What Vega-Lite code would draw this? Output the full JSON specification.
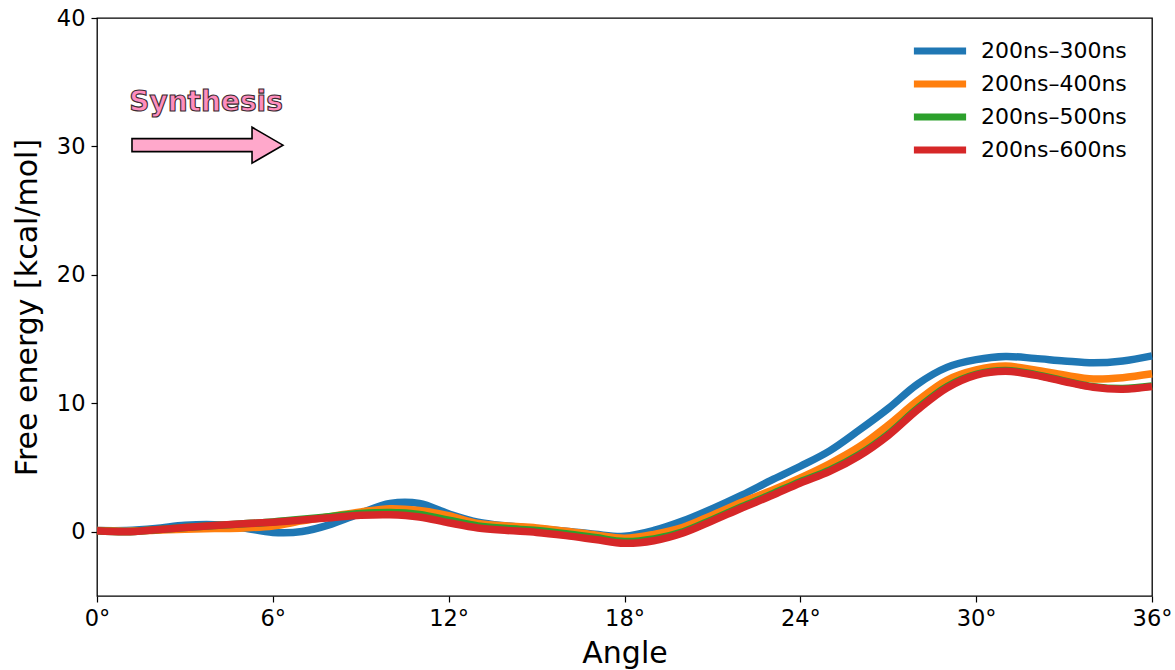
{
  "$schema": "https://vega.github.io/schema/vega-lite/v6.json",
  "autosize": "none",
  "width": 1055,
  "height": 578,
  "padding": {"left": 97, "top": 18, "right": 23, "bottom": 74},
  "background": "white",
  "config": {
    "font": "DejaVu Sans",
    "view": {"stroke": "black", "strokeWidth": 1.3},
    "axis": {
      "grid": false,
      "domain": false,
      "tickColor": "black",
      "tickWidth": 1.2,
      "tickSize": 6,
      "labelColor": "black",
      "labelFontSize": 22.5,
      "labelFont": "DejaVu Sans",
      "titleColor": "black",
      "titleFontSize": 30,
      "titleFont": "DejaVu Sans",
      "titleFontWeight": "normal"
    }
  },
  "datasets": {
    "curves": [
      {"angle": 0, "energy": 0.1, "run": "200ns–300ns"},
      {"angle": 1, "energy": 0.1, "run": "200ns–300ns"},
      {"angle": 2, "energy": 0.25, "run": "200ns–300ns"},
      {"angle": 3, "energy": 0.5, "run": "200ns–300ns"},
      {"angle": 4, "energy": 0.55, "run": "200ns–300ns"},
      {"angle": 5, "energy": 0.3, "run": "200ns–300ns"},
      {"angle": 6, "energy": -0.05, "run": "200ns–300ns"},
      {"angle": 7, "energy": 0.02, "run": "200ns–300ns"},
      {"angle": 8, "energy": 0.6, "run": "200ns–300ns"},
      {"angle": 9, "energy": 1.45, "run": "200ns–300ns"},
      {"angle": 10, "energy": 2.2, "run": "200ns–300ns"},
      {"angle": 11, "energy": 2.2, "run": "200ns–300ns"},
      {"angle": 12, "energy": 1.4, "run": "200ns–300ns"},
      {"angle": 13, "energy": 0.75, "run": "200ns–300ns"},
      {"angle": 14, "energy": 0.45, "run": "200ns–300ns"},
      {"angle": 15, "energy": 0.25, "run": "200ns–300ns"},
      {"angle": 16, "energy": 0.05, "run": "200ns–300ns"},
      {"angle": 17, "energy": -0.2, "run": "200ns–300ns"},
      {"angle": 18, "energy": -0.35, "run": "200ns–300ns"},
      {"angle": 19, "energy": 0.1, "run": "200ns–300ns"},
      {"angle": 20, "energy": 0.85, "run": "200ns–300ns"},
      {"angle": 21, "energy": 1.8, "run": "200ns–300ns"},
      {"angle": 22, "energy": 2.85, "run": "200ns–300ns"},
      {"angle": 23, "energy": 4.0, "run": "200ns–300ns"},
      {"angle": 24, "energy": 5.1, "run": "200ns–300ns"},
      {"angle": 25, "energy": 6.3, "run": "200ns–300ns"},
      {"angle": 26, "energy": 7.9, "run": "200ns–300ns"},
      {"angle": 27, "energy": 9.6, "run": "200ns–300ns"},
      {"angle": 28, "energy": 11.5, "run": "200ns–300ns"},
      {"angle": 29, "energy": 12.8, "run": "200ns–300ns"},
      {"angle": 30, "energy": 13.4, "run": "200ns–300ns"},
      {"angle": 31, "energy": 13.65, "run": "200ns–300ns"},
      {"angle": 32, "energy": 13.5, "run": "200ns–300ns"},
      {"angle": 33, "energy": 13.3, "run": "200ns–300ns"},
      {"angle": 34, "energy": 13.15, "run": "200ns–300ns"},
      {"angle": 35, "energy": 13.3, "run": "200ns–300ns"},
      {"angle": 36, "energy": 13.7, "run": "200ns–300ns"},

      {"angle": 0, "energy": 0.1, "run": "200ns–400ns"},
      {"angle": 1, "energy": 0.05, "run": "200ns–400ns"},
      {"angle": 2, "energy": 0.12, "run": "200ns–400ns"},
      {"angle": 3, "energy": 0.2, "run": "200ns–400ns"},
      {"angle": 4, "energy": 0.25, "run": "200ns–400ns"},
      {"angle": 5, "energy": 0.3, "run": "200ns–400ns"},
      {"angle": 6, "energy": 0.45, "run": "200ns–400ns"},
      {"angle": 7, "energy": 0.85, "run": "200ns–400ns"},
      {"angle": 8, "energy": 1.2, "run": "200ns–400ns"},
      {"angle": 9, "energy": 1.55, "run": "200ns–400ns"},
      {"angle": 10, "energy": 1.8, "run": "200ns–400ns"},
      {"angle": 11, "energy": 1.65, "run": "200ns–400ns"},
      {"angle": 12, "energy": 1.25, "run": "200ns–400ns"},
      {"angle": 13, "energy": 0.65, "run": "200ns–400ns"},
      {"angle": 14, "energy": 0.45, "run": "200ns–400ns"},
      {"angle": 15, "energy": 0.3, "run": "200ns–400ns"},
      {"angle": 16, "energy": 0.05, "run": "200ns–400ns"},
      {"angle": 17, "energy": -0.25, "run": "200ns–400ns"},
      {"angle": 18, "energy": -0.5, "run": "200ns–400ns"},
      {"angle": 19, "energy": -0.2, "run": "200ns–400ns"},
      {"angle": 20, "energy": 0.35, "run": "200ns–400ns"},
      {"angle": 21, "energy": 1.3, "run": "200ns–400ns"},
      {"angle": 22, "energy": 2.3, "run": "200ns–400ns"},
      {"angle": 23, "energy": 3.2, "run": "200ns–400ns"},
      {"angle": 24, "energy": 4.2, "run": "200ns–400ns"},
      {"angle": 25, "energy": 5.3, "run": "200ns–400ns"},
      {"angle": 26, "energy": 6.6, "run": "200ns–400ns"},
      {"angle": 27, "energy": 8.3, "run": "200ns–400ns"},
      {"angle": 28, "energy": 10.2, "run": "200ns–400ns"},
      {"angle": 29, "energy": 11.8, "run": "200ns–400ns"},
      {"angle": 30, "energy": 12.6, "run": "200ns–400ns"},
      {"angle": 31, "energy": 12.9, "run": "200ns–400ns"},
      {"angle": 32, "energy": 12.6, "run": "200ns–400ns"},
      {"angle": 33, "energy": 12.2, "run": "200ns–400ns"},
      {"angle": 34, "energy": 11.9, "run": "200ns–400ns"},
      {"angle": 35, "energy": 12.0, "run": "200ns–400ns"},
      {"angle": 36, "energy": 12.3, "run": "200ns–400ns"},

      {"angle": 0, "energy": 0.08, "run": "200ns–500ns"},
      {"angle": 1, "energy": 0.0, "run": "200ns–500ns"},
      {"angle": 2, "energy": 0.16, "run": "200ns–500ns"},
      {"angle": 3, "energy": 0.33, "run": "200ns–500ns"},
      {"angle": 4, "energy": 0.48, "run": "200ns–500ns"},
      {"angle": 5, "energy": 0.62, "run": "200ns–500ns"},
      {"angle": 6, "energy": 0.77, "run": "200ns–500ns"},
      {"angle": 7, "energy": 0.97, "run": "200ns–500ns"},
      {"angle": 8, "energy": 1.2, "run": "200ns–500ns"},
      {"angle": 9, "energy": 1.42, "run": "200ns–500ns"},
      {"angle": 10, "energy": 1.5, "run": "200ns–500ns"},
      {"angle": 11, "energy": 1.35, "run": "200ns–500ns"},
      {"angle": 12, "energy": 0.9, "run": "200ns–500ns"},
      {"angle": 13, "energy": 0.45, "run": "200ns–500ns"},
      {"angle": 14, "energy": 0.25, "run": "200ns–500ns"},
      {"angle": 15, "energy": 0.1, "run": "200ns–500ns"},
      {"angle": 16, "energy": -0.15, "run": "200ns–500ns"},
      {"angle": 17, "energy": -0.45, "run": "200ns–500ns"},
      {"angle": 18, "energy": -0.75, "run": "200ns–500ns"},
      {"angle": 19, "energy": -0.55, "run": "200ns–500ns"},
      {"angle": 20, "energy": 0.0, "run": "200ns–500ns"},
      {"angle": 21, "energy": 0.95, "run": "200ns–500ns"},
      {"angle": 22, "energy": 1.95, "run": "200ns–500ns"},
      {"angle": 23, "energy": 2.9, "run": "200ns–500ns"},
      {"angle": 24, "energy": 3.9, "run": "200ns–500ns"},
      {"angle": 25, "energy": 4.8, "run": "200ns–500ns"},
      {"angle": 26, "energy": 6.0, "run": "200ns–500ns"},
      {"angle": 27, "energy": 7.6, "run": "200ns–500ns"},
      {"angle": 28, "energy": 9.6, "run": "200ns–500ns"},
      {"angle": 29, "energy": 11.3, "run": "200ns–500ns"},
      {"angle": 30, "energy": 12.25, "run": "200ns–500ns"},
      {"angle": 31, "energy": 12.55, "run": "200ns–500ns"},
      {"angle": 32, "energy": 12.25, "run": "200ns–500ns"},
      {"angle": 33, "energy": 11.75, "run": "200ns–500ns"},
      {"angle": 34, "energy": 11.3, "run": "200ns–500ns"},
      {"angle": 35, "energy": 11.15, "run": "200ns–500ns"},
      {"angle": 36, "energy": 11.35, "run": "200ns–500ns"},

      {"angle": 0, "energy": 0.08, "run": "200ns–600ns"},
      {"angle": 1, "energy": 0.0, "run": "200ns–600ns"},
      {"angle": 2, "energy": 0.15, "run": "200ns–600ns"},
      {"angle": 3, "energy": 0.33, "run": "200ns–600ns"},
      {"angle": 4, "energy": 0.48, "run": "200ns–600ns"},
      {"angle": 5, "energy": 0.62, "run": "200ns–600ns"},
      {"angle": 6, "energy": 0.75, "run": "200ns–600ns"},
      {"angle": 7, "energy": 0.92, "run": "200ns–600ns"},
      {"angle": 8, "energy": 1.1, "run": "200ns–600ns"},
      {"angle": 9, "energy": 1.28, "run": "200ns–600ns"},
      {"angle": 10, "energy": 1.32, "run": "200ns–600ns"},
      {"angle": 11, "energy": 1.15, "run": "200ns–600ns"},
      {"angle": 12, "energy": 0.7, "run": "200ns–600ns"},
      {"angle": 13, "energy": 0.3, "run": "200ns–600ns"},
      {"angle": 14, "energy": 0.1, "run": "200ns–600ns"},
      {"angle": 15, "energy": -0.05, "run": "200ns–600ns"},
      {"angle": 16, "energy": -0.3, "run": "200ns–600ns"},
      {"angle": 17, "energy": -0.6, "run": "200ns–600ns"},
      {"angle": 18, "energy": -0.9, "run": "200ns–600ns"},
      {"angle": 19, "energy": -0.7, "run": "200ns–600ns"},
      {"angle": 20, "energy": -0.1, "run": "200ns–600ns"},
      {"angle": 21, "energy": 0.85, "run": "200ns–600ns"},
      {"angle": 22, "energy": 1.85, "run": "200ns–600ns"},
      {"angle": 23, "energy": 2.8, "run": "200ns–600ns"},
      {"angle": 24, "energy": 3.8, "run": "200ns–600ns"},
      {"angle": 25, "energy": 4.7, "run": "200ns–600ns"},
      {"angle": 26, "energy": 5.9, "run": "200ns–600ns"},
      {"angle": 27, "energy": 7.5, "run": "200ns–600ns"},
      {"angle": 28, "energy": 9.5, "run": "200ns–600ns"},
      {"angle": 29, "energy": 11.2, "run": "200ns–600ns"},
      {"angle": 30, "energy": 12.2, "run": "200ns–600ns"},
      {"angle": 31, "energy": 12.5, "run": "200ns–600ns"},
      {"angle": 32, "energy": 12.2, "run": "200ns–600ns"},
      {"angle": 33, "energy": 11.7, "run": "200ns–600ns"},
      {"angle": 34, "energy": 11.25, "run": "200ns–600ns"},
      {"angle": 35, "energy": 11.1, "run": "200ns–600ns"},
      {"angle": 36, "energy": 11.3, "run": "200ns–600ns"}
    ],
    "note": [
      {"angle": 3.72, "energy": 32.76, "label": "Synthesis"}
    ],
    "arrow": [
      {"angle": 3.77, "energy": 30.1}
    ]
  },
  "encoding": {
    "x": {
      "field": "angle",
      "type": "quantitative",
      "scale": {"domain": [0, 36], "nice": false, "zero": false},
      "axis": {
        "title": "Angle",
        "values": [0, 6, 12, 18, 24, 30, 36],
        "labelExpr": "datum.value + '°'",
        "labelPadding": 5,
        "titlePadding": 9,
        "labelFlush": false
      }
    },
    "y": {
      "field": "energy",
      "type": "quantitative",
      "scale": {"domain": [-5, 40], "nice": false, "zero": false},
      "axis": {
        "title": "Free energy [kcal/mol]",
        "values": [0, 10, 20, 30, 40],
        "labelPadding": 6,
        "titlePadding": 14,
        "labelFlush": false
      }
    }
  },
  "layer": [
    {
      "data": {"name": "curves"},
      "mark": {"type": "line", "strokeWidth": 7.5, "interpolate": "catmull-rom", "strokeCap": "butt"},
      "encoding": {
        "color": {
          "field": "run",
          "type": "nominal",
          "scale": {
            "domain": ["200ns–300ns", "200ns–400ns", "200ns–500ns", "200ns–600ns"],
            "range": ["#1f77b4", "#ff7f0e", "#2ca02c", "#d62728"]
          },
          "legend": {
            "title": null,
            "orient": "none",
            "legendX": 821,
            "legendY": 11,
            "padding": 4,
            "symbolType": "M-1.8,0L1.8,0",
            "symbolSize": 841,
            "symbolStrokeWidth": 7,
            "symbolFillColor": "transparent",
            "labelFontSize": 22,
            "labelFont": "DejaVu Sans",
            "labelColor": "black",
            "labelOffset": 23,
            "rowPadding": 1,
            "strokeColor": null,
            "fillColor": null
          }
        }
      }
    },
    {
      "data": {"name": "arrow"},
      "mark": {
        "type": "point",
        "shape": "M-1,-0.086L0.59,-0.086L0.59,-0.238L1,0L0.59,0.238L0.59,0.086L-1,0.086Z",
        "size": 22800,
        "filled": true,
        "fill": "#ffa8cb",
        "stroke": "black",
        "strokeWidth": 1.6,
        "opacity": 1
      },
      "encoding": {}
    },
    {
      "data": {"name": "note"},
      "mark": {
        "type": "text",
        "font": "DejaVu Sans",
        "fontWeight": "bold",
        "fontSize": 28,
        "fill": "#ff8dbd",
        "stroke": "#3b2a30",
        "strokeWidth": 1.1,
        "align": "center",
        "baseline": "alphabetic"
      },
      "encoding": {"text": {"field": "label"}}
    }
  ]
}
